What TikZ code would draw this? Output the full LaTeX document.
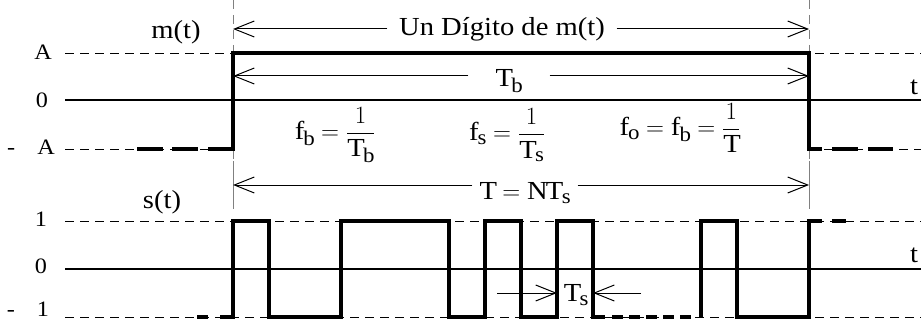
\documentclass[tikz,border=0pt]{standalone}
\usepackage{amsmath}
\usepackage{fontspec}
\setmainfont{Liberation Serif}[FakeStretch=1.1]
\usetikzlibrary{arrows.meta}
\renewcommand{\defaultscriptratio}{.8}
\newcommand{\lblsize}{\fontsize{22}{26}\selectfont}
\newcommand{\txtsize}{\fontsize{26}{31}\selectfont}

\begin{document}
\begin{tikzpicture}[x=1pt, y=1pt,
		level/.style={line width=0.9pt, dash pattern=on 9pt off 6pt},
		axis/.style={line width=1.1pt},
		guide/.style={gray, line width=1pt},
		wave/.style={line width=3.3pt},
		dim/.style={line width=1pt, -{Straight Barb[length=20pt, width=16pt]}},
		lbl/.style={font=\lblsize, inner sep=0pt},
		txt/.style={font=\txtsize, inner sep=0pt}]
		\def\xa{233}
		\def\xb{809}
		\def\ts{36}
		% levels of m(t)
		\def\yA{269}
		\def\yZ{222}
		\def\yM{173}
		% levels of s(t)
		\def\sP{101}
		\def\sZ{53}
		\def\sM{5}

		\useasboundingbox (0,0) rectangle (921,322);

		% --- Level lines ---
		\draw[level] (65,\yA) -- (921,\yA);
		\draw[axis] (65,\yZ) -- (921,\yZ);
		\draw[level] (65,\yM) -- (\xa,\yM) (\xb,\yM) -- (921,\yM);
		\draw[level] (65,\sP) -- (921,\sP);
		\draw[axis] (65,\sZ) -- (921,\sZ);
		\draw[level] (65,\sM) -- (921,\sM);

		% --- Guides of the digit ---
		\draw[guide, dash pattern=on 9pt off 6pt] (\xa,322) -- (\xa,159);
		\draw[guide] (\xa,161) -- (\xa,113);
		\draw[guide, dash pattern=on 9pt off 6pt] (\xb,322) -- (\xb,159);
		\draw[guide] (\xb,161) -- (\xb,113);

		% --- m(t) ---
		\draw[wave] (137,\yM) -- (163,\yM) (172,\yM) -- (198,\yM);
		\draw[wave] (208,\yM) -- (\xa,\yM) -- (\xa,\yA) -- (\xb,\yA) -- (\xb,\yM) -- (822,\yM);
		\draw[wave] (832,\yM) -- (858,\yM) (868,\yM) -- (893,\yM);

		% --- s(t) ---
		\draw[wave] (197,\sM) -- (208,\sM);
		\draw[wave] (220,\sM) -- (\xa,\sM) -- (\xa,\sP) -- (\xa+\ts,\sP) -- (\xa+\ts,\sM)
			-- (\xa+3*\ts,\sM) -- (\xa+3*\ts,\sP) -- (\xa+6*\ts,\sP) -- (\xa+6*\ts,\sM)
			-- (\xa+7*\ts,\sM) -- (\xa+7*\ts,\sP) -- (\xa+8*\ts,\sP) -- (\xa+8*\ts,\sM)
			-- (\xa+9*\ts,\sM) -- (\xa+9*\ts,\sP) -- (\xa+10*\ts,\sP) -- (\xa+10*\ts,\sM) -- (605,\sM);
		\draw[wave, dash pattern=on 11pt off 6pt] (612,\sM) -- (691,\sM);
		\draw[wave] (\xa+13*\ts,\sM) -- (\xa+13*\ts,\sP) -- (\xa+14*\ts,\sP) -- (\xa+14*\ts,\sM)
			-- (\xb,\sM) -- (\xb,\sP) -- (822,\sP);
		\draw[wave] (832,\sP) -- (846,\sP);

		% --- Level labels ---
		\node[lbl] (labA) at (43,270) {A};
		\node[lbl] (labZa) at (42,222) {0};
		\node[lbl] (labMa) at (31,175) {-\quad A};
		\node[lbl] (labP) at (41,103) {1};
		\node[lbl] (labZs) at (41,56) {0};
		\node[lbl] (labMs) at (28,13) {-\quad 1};

		% --- Signal names ---
		\node[txt] (mt) at (176,290) {m(t)};
		\node[txt] (st) at (162,120) {s(t)};
		\node[txt] (ta) at (914,235) {t};
		\node[txt] (tc) at (914,67) {t};

		% --- Dimension arrows ---
		\coordinate (digL) at (\xa,293);
		\coordinate (digR) at (\xb,293);
		\node[txt, inner xsep=11.5pt] (dig) at (502,293) {Un Dígito de m(t)};
		\draw[dim] (dig.west |- digL) -- (digL);
		\draw[dim] (dig.east |- digR) -- (digR);

		\coordinate (tbL) at (\xa,246);
		\coordinate (tbR) at (\xb,246);
		\node[txt, inner xsep=27pt] (tb) at (509,241) {$\mathrm{T_b}$};
		\draw[dim] (tb.west |- tbL) -- (tbL);
		\draw[dim] (tb.east |- tbR) -- (tbR);

		\coordinate (tnL) at (\xa,137);
		\coordinate (tnR) at (\xb,137);
		\node[txt, inner xsep=7pt] (tn) at (525,129) {$\mathrm{T = NT_s}$};
		\draw[dim] (tn.west |- tnL) -- (tnL);
		\draw[dim] (tn.east |- tnR) -- (tnR);

		\coordinate (tsA) at (497,29);
		\coordinate (tsB) at (\xa+9*\ts,29);
		\coordinate (tsC) at (641,29);
		\coordinate (tsD) at (\xa+10*\ts,29);
		\node[txt] (tsl) at (576,27) {$\mathrm{T_s}$};
		\draw[dim] (tsA) -- (tsB);
		\draw[dim] (tsC) -- (tsD);

		% --- Frequencies ---
		\node[txt] (fb) at (335,187) {$\mathrm{f_b} = \dfrac{1}{\mathrm{T_b}}$};
		\node[txt] (fs) at (507,187) {$\mathrm{f_s} = \dfrac{1}{\mathrm{T_s}}$};
		\node[txt] (fo) at (680,194) {$\mathrm{f_o} = \mathrm{f_b} = \dfrac{1}{\mathrm{T}}$};
	\end{tikzpicture}
\end{document}
